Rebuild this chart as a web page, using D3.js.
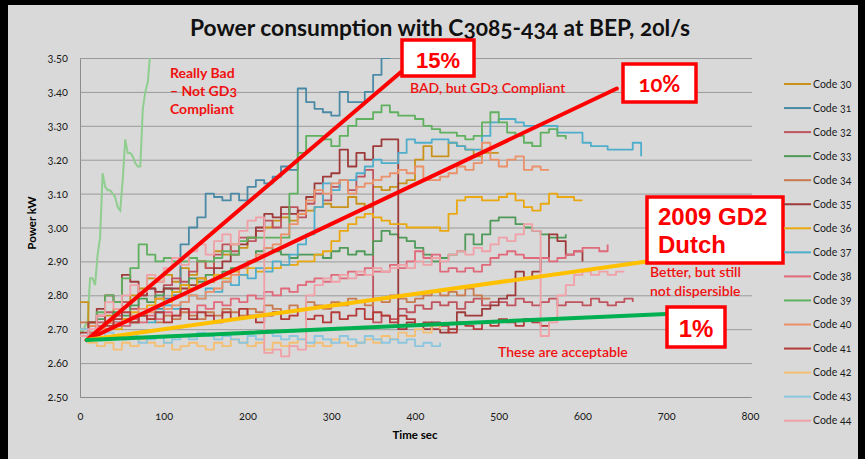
<!DOCTYPE html>
<html>
<head>
<meta charset="utf-8">
<script src="https://cdn.jsdelivr.net/npm/d3@7"></script>
<style>
html, body { margin: 0; padding: 0; background: #000; }
svg { display: block; }
text { font-family: Lato, "Open Sans", sans-serif; font-variant-numeric: oldstyle-nums; }
</style>
</head>
<body>
<svg id="chart" width="865" height="459"></svg>
<script>
// ---- data (power kW sampled every 10 s unless noted) ----
const timeStep = 10;
const xTicks = [0, 100, 200, 300, 400, 500, 600, 700, 800];
const yTicks = [2.5, 2.6, 2.7, 2.8, 2.9, 3.0, 3.1, 3.2, 3.3, 3.4, 3.5];

const code30 = [2.78,2.72,2.71,2.74,2.76,2.78,2.80,2.82,2.85,2.84, 2.86,2.84,2.88,2.86,2.90,2.88,2.93,2.92,2.95,2.94,
  2.97,2.99,3.00,3.02,3.03,3.02,3.04,3.05,3.06,3.07, 3.06,3.06,3.09,3.07,3.06,3.12,3.11,3.12,3.13,3.14,
  3.20,3.24,3.21,3.21,3.25,3.24,3.23,3.21,3.22,3.22, 3.22];
const code31 = [2.70,2.69,2.71,2.72,2.71,2.73,2.72,2.74,2.73,2.76, 2.79,2.80,2.95,3.00,3.03,3.10,3.09,3.08,3.10,3.08,
  3.12,3.14,3.13,3.15,3.18,3.17,3.41,3.37,3.35,3.34, 3.33,3.40,3.37,3.37,3.40,3.45,3.50,3.53];
const code32 = [2.70,2.68,2.72,2.75,2.74,2.78,2.76,2.80,2.82,2.79, 2.83,2.85,2.84,2.87,2.90,2.88,2.92,2.95,2.93,2.97,
  2.96,2.99,3.02,3.00,3.04,3.06,3.03,3.07,3.10,3.08, 3.12,3.14,3.11,3.15,3.17,2.72,2.74,2.73,2.76,2.75,
  2.77,2.76,2.78,2.77,2.78,2.76,2.78,2.79,2.77,2.78, 2.78,2.77,2.79,2.78,2.77,2.78,2.79,2.77,2.78,2.78,
  2.77,2.79,2.78,2.77,2.78,2.79,2.78];
const code33 = [2.70,2.71,2.73,2.72,2.75,2.74,2.77,2.79,2.78,2.80, 2.82,2.81,2.83,2.85,2.84,2.86,2.85,2.87,2.88,2.88,
  2.90,2.93,2.94,2.93,2.92,2.91,2.92,2.92,2.92,2.91, 2.93,2.94,2.92,2.93,2.92,2.96,2.99,2.98,2.97,2.96,
  2.94,2.92,2.90,2.91,2.92,2.93,2.98,2.95,2.98,3.02, 3.03,3.03,3.01,3.00,2.99,2.98,2.97,2.97,2.98];
const code34 = [2.72,2.71,2.70,2.72,2.71,2.73,2.72,2.74,2.73,2.72, 2.74,2.73,2.75,2.74,2.73,2.75,2.74,2.76,2.75,2.74,
  2.76,2.75,2.77,2.76,2.75,2.77,2.76,2.78,2.77,2.76, 2.78,2.77,2.79,2.78,2.77,2.79,2.78,2.80,2.79,2.78,
  2.79,2.80,2.81,2.80,2.81,2.80,2.82,2.80,2.79,2.79];
const code35 = [2.70,2.72,2.76,2.80,2.78,2.86,2.84,2.80,2.82,2.81, 2.82,2.82,2.82,2.83,2.85,2.84,2.88,2.90,2.92,2.95,
  2.97,3.00,3.04,3.03,3.06,3.04,3.05,3.09,3.13,3.15, 3.16,3.23,3.18,3.22,3.20,3.24,3.26,3.26,2.70,2.72,
  2.71,2.70,2.72,2.69,2.70,2.75,2.74,2.74,2.76,2.77, 2.79,2.80,2.87,2.85,2.87,2.91,2.98,2.96,2.92,2.93,
  2.90];
const code36 = [2.70,2.69,2.71,2.72,2.70,2.73,2.75,2.74,2.77,2.79, 2.78,2.81,2.83,2.82,2.85,2.84,2.86,2.85,2.87,2.86,
  2.88,2.87,2.88,2.88,2.89,2.89,2.90,2.90,2.92,2.93, 2.96,2.99,3.01,3.03,3.04,3.03,3.02,3.01,3.01,3.00,
  3.00,3.00,3.00,2.99,3.04,3.08,3.09,3.09,3.08,3.08, 3.09,3.10,3.08,3.06,3.05,3.07,3.10,3.09,3.09,3.08,
  3.08];
const code37 = [2.70,2.68,2.71,2.70,2.72,2.71,2.73,2.74,2.72,2.75, 2.77,2.76,2.78,2.80,2.79,2.82,2.81,2.84,2.83,2.86,
  2.85,2.88,2.87,2.90,2.89,2.92,2.95,2.98,3.06,3.13, 3.11,3.14,3.14,3.16,3.18,3.20,3.19,3.19,3.22,3.26,
  3.25,3.25,3.26,3.26,3.25,3.24,3.23,3.23,3.27,3.31, 3.32,3.32,3.31,3.30,3.30,3.30,3.30,3.28,3.28,3.28,
  3.25,3.24,3.24,3.23,3.23,3.23,3.25,3.21];
const code38 = [2.70,2.69,2.71,2.70,2.72,2.71,2.73,2.72,2.74,2.73, 2.75,2.74,2.76,2.75,2.77,2.76,2.78,2.77,2.79,2.78,
  2.80,2.79,2.81,2.80,2.82,2.81,2.83,2.84,2.85,2.84, 2.86,2.85,2.87,2.86,2.88,2.87,2.87,2.89,2.88,2.90,
  2.93,2.91,2.92,2.87,2.88,2.87,2.88,2.87,2.89,2.91, 2.92,2.93,2.92,2.91,2.91,2.91,2.90,2.91,2.92,2.93,
  2.94,2.94,2.93,2.95];
const code39 = [2.70,2.72,2.75,2.80,2.78,2.85,2.88,2.95,2.92,2.90, 2.91,2.90,2.90,2.91,2.90,2.90,2.91,2.93,2.92,2.96,
  2.97,2.97,2.97,2.97,2.97,3.10,3.22,3.27,3.27,3.26, 3.24,3.27,3.30,3.32,3.32,3.34,3.36,3.34,3.33,3.33,
  3.32,3.30,3.29,3.28,3.28,3.27,3.26,3.27,3.31,3.34, 3.31,3.28,3.27,3.25,3.24,3.28,3.29,3.27,3.26];
const code40 = [2.70,2.71,2.70,2.72,2.73,2.72,2.74,2.76,2.75,2.77, 2.76,2.77,2.78,2.80,2.79,2.81,2.82,2.84,2.86,2.88,
  2.90,2.92,2.94,2.95,2.98,3.01,3.04,3.08,3.11,3.10, 3.13,3.14,3.10,3.12,3.13,3.14,3.15,3.16,3.17,3.16,
  3.18,3.14,3.14,3.15,3.16,3.18,3.17,3.19,3.25,3.20, 3.18,3.20,3.21,3.17,3.18,3.17,3.17];
const code41 = [2.69,2.72,2.74,2.71,2.73,2.75,2.72,2.74,2.73,2.75, 2.72,2.74,2.76,2.73,2.75,2.74,2.72,2.75,2.73,2.76,
  2.74,2.72,2.74,2.75,2.73,2.74,2.76,2.73,2.74,2.72, 2.75,2.73,2.74,2.76,2.73,2.75,2.74,2.72,2.74,2.73,
  2.71,2.72,2.70,2.71,2.69,2.72,2.71,2.70,2.72,2.71, 2.73,2.72,2.71,2.73,2.72,2.71,2.72];
const code42 = [2.68,2.66,2.65,2.66,2.64,2.66,2.65,2.67,2.66,2.65, 2.66,2.64,2.65,2.66,2.65,2.64,2.66,2.65,2.67,2.66,
  2.65,2.66,2.64,2.66,2.65,2.66,2.67,2.65,2.66,2.65, 2.67,2.66,2.65,2.66,2.67,2.66,2.68,2.67,2.69,2.68,
  2.70,2.69,2.71,2.70];
const code43 = [2.70,2.68,2.67,2.69,2.68,2.67,2.68,2.66,2.67,2.68, 2.66,2.67,2.68,2.67,2.69,2.68,2.67,2.68,2.67,2.66,
  2.68,2.67,2.69,2.68,2.67,2.68,2.67,2.66,2.68,2.67, 2.66,2.68,2.67,2.66,2.68,2.67,2.66,2.67,2.66,2.67,
  2.65,2.66,2.65,2.66];
const code44 = [2.68,2.70,2.74,2.78,2.76,2.80,2.83,2.81,2.86,2.84, 2.88,2.91,2.89,2.93,2.95,2.92,2.96,2.98,2.95,2.99,
  3.02,3.03,2.63,2.64,2.62,2.65,2.64,2.80,2.83,2.85, 2.84,2.86,2.85,2.87,2.86,2.88,2.87,2.88,2.89,2.88,
  2.90,2.89,2.91,2.90,2.92,2.93,2.92,2.94,2.93,2.95, 2.97,2.96,2.98,3.01,2.99,2.68,2.72,2.80,2.83,2.86,
  2.87,2.86,2.87,2.86,2.87,2.87];
// unlabelled steep run, sampled every 3 s
const steepStep = 3;
const steepRun = [2.70,2.69,2.71,2.72,2.85,2.85,2.83,2.92,2.97,3.16, 3.12,3.11,3.11,3.10,3.09,3.06,3.05,3.14,3.26,3.22,
  3.22,3.21,3.19,3.18,3.18,3.35,3.40,3.43,3.52,3.60];

const series = [
  { name: "Code 30", values: code30, color: "#c9921b" },
  { name: "Code 31", values: code31, color: "#4a8aa6" },
  { name: "Code 32", values: code32, color: "#c0545e" },
  { name: "Code 33", values: code33, color: "#4f9a58" },
  { name: "Code 34", values: code34, color: "#c8794e" },
  { name: "Code 35", values: code35, color: "#9e3a3a" },
  { name: "Code 36", values: code36, color: "#eaa810" },
  { name: "Code 37", values: code37, color: "#4eaecb" },
  { name: "Code 38", values: code38, color: "#e06a7a" },
  { name: "Code 39", values: code39, color: "#5fb05f" },
  { name: "Code 40", values: code40, color: "#eb9068" },
  { name: "Code 41", values: code41, color: "#b53a3a" },
  { name: "Code 42", values: code42, color: "#f5bf72" },
  { name: "Code 43", values: code43, color: "#8cc6df" },
  { name: "Code 44", values: code44, color: "#f0a0a6" }
];

// trend annotations: from a common origin to an end point (time s, kW)
const trendOrigin = [8, 2.668];
const trends = [
  { label: "15%", end: [384, 3.46], color: "#ff0000" },
  { label: "10%", end: [641, 3.41], color: "#ff0000" },
  { label: "GD2", end: [677, 2.90], color: "#ffc000" },
  { label: "1%", end: [700, 2.745], color: "#00b050" }
];

// ---- chart ----
const svg = d3.select("#chart");
const W = 865, H = 459;
const x = d3.scaleLinear().domain([0, 800]).range([80, 750]);
const y = d3.scaleLinear().domain([2.5, 3.5]).range([397, 58]);

svg.append("rect").attr("width", W).attr("height", H).attr("fill", "#000");
svg.append("rect").attr("x", 8).attr("y", 5).attr("width", 850).attr("height", H - 5).attr("fill", "#d9d9d9");

// gridlines + y labels
const yAxis = svg.append("g")
  .attr("transform", `translate(${x(0)},0)`)
  .call(d3.axisLeft(y).tickValues(yTicks).tickFormat(d3.format(".2f")).tickSize(-(x(800) - x(0) + 2)).tickPadding(12));
yAxis.select(".domain").attr("stroke", "#8c8c8c");
yAxis.selectAll(".tick line").attr("stroke", "#9a9a9a");
yAxis.selectAll(".tick text").attr("fill", "#1a1a1a").style("font-size", "11px");

const xAxis = svg.append("g")
  .attr("transform", `translate(0,${y(2.5)})`)
  .call(d3.axisBottom(x).tickValues(xTicks).tickSize(0).tickPadding(15));
xAxis.select(".domain").attr("stroke", "#8c8c8c");
xAxis.selectAll(".tick text").attr("fill", "#1a1a1a").style("font-size", "11px");

// axis titles
svg.append("text").attr("x", 415).attr("y", 439).attr("text-anchor", "middle")
  .style("font-size", "11.5px").style("font-weight", "bold").text("Time sec");
svg.append("text").attr("transform", "translate(36,223) rotate(-90)").attr("text-anchor", "middle")
  .style("font-size", "11.5px").style("font-weight", "bold").text("Power kW");

// title
const title = svg.append("text").attr("x", 440).attr("y", 36).attr("text-anchor", "middle")
  .style("font-size", "21px").style("font-weight", "bold").attr("fill", "#111")
  .text("Power consumption with C3085-434 at BEP, 20l/s");
const tw = title.node().getComputedTextLength();
title.style("font-size", (21 * 500 / tw).toFixed(2) + "px");

// series lines
svg.append("clipPath").attr("id", "plotClip").append("rect")
  .attr("x", x(0)).attr("y", y(3.5)).attr("width", x(800) - x(0)).attr("height", y(2.5) - y(3.5));
const plot = svg.append("g").attr("clip-path", "url(#plotClip)");

const stepLine = d3.line()
  .x((d, i) => x(i * timeStep)).y(d => y(d))
  .curve(d3.curveStepAfter);

plot.append("path")
  .datum(steepRun)
  .attr("fill", "none").attr("stroke", "#8fce8f").attr("stroke-width", 2)
  .attr("d", d3.line().x((d, i) => x(i * steepStep)).y(d => y(d)));

plot.selectAll("path.series")
  .data(series)
  .join("path")
  .attr("class", "series")
  .attr("fill", "none")
  .attr("stroke", d => d.color)
  .attr("stroke-width", 1.8)
  .attr("stroke-linejoin", "round")
  .attr("d", d => stepLine(d.values));

// trend lines
svg.append("g").selectAll("line")
  .data(trends)
  .join("line")
  .attr("x1", x(trendOrigin[0])).attr("y1", y(trendOrigin[1]))
  .attr("x2", d => x(d.end[0])).attr("y2", d => y(d.end[1]))
  .attr("stroke", d => d.color).attr("stroke-width", 4).attr("stroke-linecap", "round");

// boxed labels
const boxes = [
  { x: 402, y: 40, w: 72, h: 36, lines: ["15%"], size: 22, font: "'Liberation Sans', Arial, sans-serif", dy: [28] },
  { x: 623, y: 64, w: 73, h: 38, lines: ["10%"], size: 22, font: "Lato, sans-serif", dy: [28] },
  { x: 647, y: 197, w: 136, h: 66, lines: ["2009 GD2", "Dutch"], size: 24, font: "'Liberation Sans', Arial, sans-serif", dy: [28, 56], left: true },
  { x: 667, y: 307, w: 58, h: 40, lines: ["1%"], size: 24, font: "'Liberation Sans', Arial, sans-serif", dy: [30] }
];
const bg = svg.append("g").selectAll("g").data(boxes).join("g");
bg.append("rect")
  .attr("x", d => d.x).attr("y", d => d.y).attr("width", d => d.w).attr("height", d => d.h)
  .attr("fill", "#fff").attr("stroke", "#ff0000").attr("stroke-width", 3.5);
bg.each(function (d) {
  const g = d3.select(this);
  d.lines.forEach((t, i) => {
    g.append("text")
      .attr("x", d.left ? d.x + 11 : d.x + d.w / 2)
      .attr("y", d.y + d.dy[i])
      .attr("text-anchor", d.left ? "start" : "middle")
      .style("font-family", d.font)
      .style("font-size", d.size + "px")
      .style("font-weight", "bold")
      .attr("fill", "#ff0000")
      .text(t);
  });
});

// free annotations
const notes = [
  { x: 170, y: 78, text: "Really Bad", size: 14, bold: true },
  { x: 170, y: 96, text: "– Not GD3", size: 14, bold: true },
  { x: 170, y: 114, text: "Compliant", size: 14, bold: true },
  { x: 410, y: 93, text: "BAD, but GD3 Compliant", size: 14, bold: false },
  { x: 650, y: 277, text: "Better, but still", size: 14, bold: false },
  { x: 650, y: 296, text: "not dispersible", size: 14, bold: false },
  { x: 498, y: 357, text: "These are acceptable", size: 14, bold: false }
];
svg.append("g").selectAll("text").data(notes).join("text")
  .attr("x", d => d.x).attr("y", d => d.y)
  .style("font-size", d => d.size + "px")
  .style("font-weight", d => d.bold ? "bold" : "600")
  .attr("fill", "#f01010")
  .text(d => d.text);

// legend
const legend = svg.append("g").selectAll("g").data(series).join("g")
  .attr("transform", (d, i) => `translate(784,${84 + i * 24.05})`);
legend.append("line").attr("x1", 0).attr("x2", 27)
  .attr("stroke", d => d.color).attr("stroke-width", 2);
legend.append("text").attr("x", 29).attr("dy", "0.35em")
  .style("font-size", "10.5px").attr("fill", "#1a1a1a").text(d => d.name);
</script>
</body>
</html>
